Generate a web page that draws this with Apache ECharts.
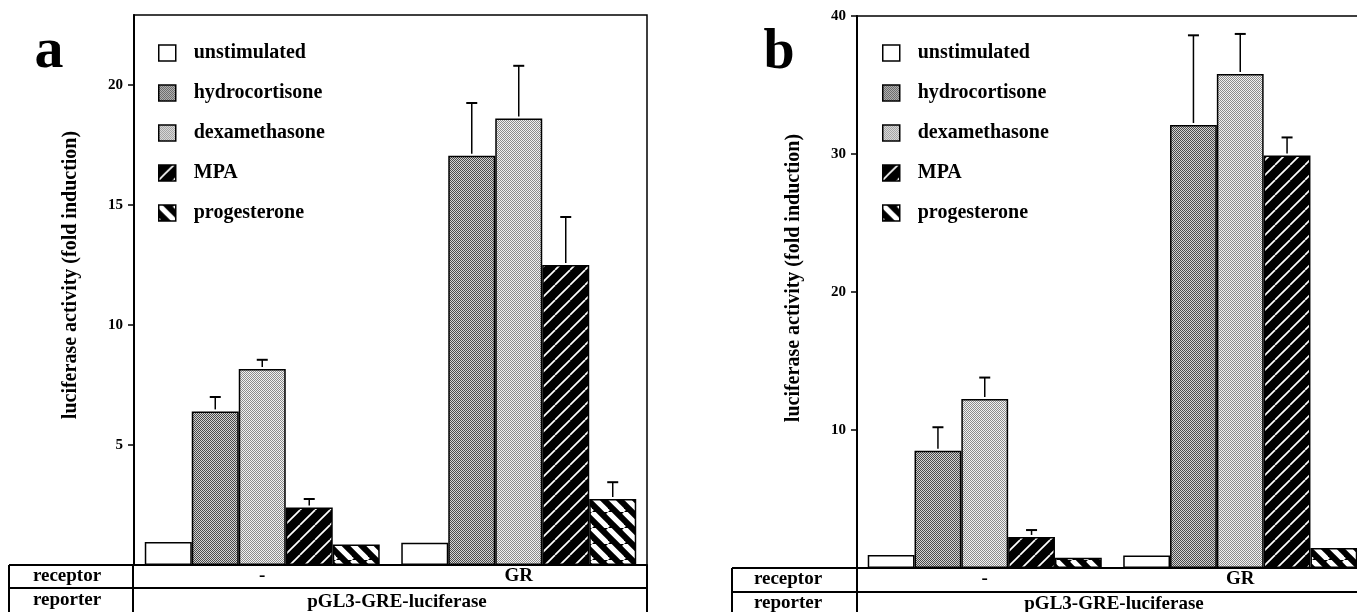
<!DOCTYPE html>
<html>
<head>
<meta charset="utf-8">
<script src="https://cdn.jsdelivr.net/npm/echarts@6/dist/echarts.min.js"></script>
<style>
html,body{margin:0;padding:0;background:#fff;overflow:hidden;}
#c{width:1357px;height:612px;}
</style>
</head>
<body>
<div id="c"></div>
<script>
// ---------- data ----------
const categories = ['-', 'GR'];
const drugs = ['unstimulated', 'hydrocortisone', 'dexamethasone', 'MPA', 'progesterone'];
const yTitle = 'luciferase activity (fold induction)';
const tableRowLabels = ['receptor', 'reporter'];
const reporterName = 'pGL3-GRE-luciferase';
const panelLetters = ['a', 'b'];

// panel a
const aUnstimulated   = [0.96, 0.93];
const aHydrocortisone = [6.4, 17.05];
const aDexamethasone  = [8.17, 18.6];
const aMPA            = [2.4, 12.5];
const aProgesterone   = [0.85, 2.75];
const aErrTopHydrocortisone = [7.0, 19.25];
const aErrTopDexamethasone  = [8.55, 20.8];
const aErrTopMPA            = [2.75, 14.5];
const aErrTopProgesterone   = [null, 3.45];

// panel b
const bUnstimulated   = [0.95, 0.9];
const bHydrocortisone = [8.5, 32.1];
const bDexamethasone  = [12.25, 35.8];
const bMPA            = [2.25, 29.9];
const bProgesterone   = [0.75, 1.45];
const bErrTopHydrocortisone = [10.2, 38.6];
const bErrTopDexamethasone  = [13.8, 38.7];
const bErrTopMPA            = [2.75, 31.2];
const bErrTopProgesterone   = [null, null];

// ---------- patterns ----------
function tile(w, h, draw) {
  const c = document.createElement('canvas');
  c.width = w; c.height = h;
  const g = c.getContext('2d');
  draw(g, w, h);
  return { image: c, repeat: 'repeat' };
}
function dither(dark, light) {
  return tile(4, 4, (g, w, h) => {
    g.fillStyle = light; g.fillRect(0, 0, w, h);
    g.fillStyle = dark;
    for (let y = 0; y < h; y++) for (let x = 0; x < w; x++) if ((x + y) % 2 === 0) g.fillRect(x, y, 1, 1);
  });
}
const patUnstim = '#ffffff';
const patHydro = dither('#4a4a4a', '#d2d2d2');
const patDexa = dither('#8c8c8c', '#f2f2f2');
const patMPA = tile(15, 15, (g, w, h) => {
  g.fillStyle = '#000'; g.fillRect(0, 0, w, h);
  g.strokeStyle = '#fff'; g.lineWidth = 1.7;
  for (const k of [-w, 0, w]) { g.beginPath(); g.moveTo(k, h); g.lineTo(k + w, 0); g.stroke(); }
});
const patProg = tile(16, 16, (g, w, h) => {
  g.fillStyle = '#000'; g.fillRect(0, 0, w, h);
  g.strokeStyle = '#fff'; g.lineWidth = 5.2;
  for (const k of [-w, 0, w]) { g.beginPath(); g.moveTo(k, 0); g.lineTo(k + w, h); g.stroke(); }
});
const patterns = [patUnstim, patHydro, patDexa, patMPA, patProg];

const SERIF = '"Liberation Serif", "DejaVu Serif", serif';
const GAP = 0.084;

function barSeries(vals, gi) {
  return vals.map((v, k) => ({
    name: drugs[k], type: 'bar', xAxisIndex: gi, yAxisIndex: gi,
    data: v, barGap: '0%', barCategoryGap: (GAP * 100) + '%',
    itemStyle: { color: patterns[k], borderColor: '#000', borderWidth: 1.5 },
    emphasis: { disabled: true }, animation: false
  }));
}
function errSeries(vals, tops, gi) {
  const data = [];
  tops.forEach((t, k) => t.forEach((top, i) => { if (top != null) data.push([i, k, vals[k][i], top]); }));
  return {
    type: 'custom', xAxisIndex: gi, yAxisIndex: gi, z: 5, animation: false,
    encode: { x: 0, y: 3 }, data: data,
    renderItem: function (params, api) {
      const cat = api.value(0), k = api.value(1), v = api.value(2), t = api.value(3);
      const p0 = api.coord([cat, v]); const p1 = api.coord([cat, t]);
      const band = api.size([1, 0])[0];
      const bw = band * (1 - GAP) / 5;
      const x = p0[0] + (k - 2) * bw;
      return { type: 'group', children: [
        { type: 'line', shape: { x1: x, y1: p0[1] - 2, x2: x, y2: p1[1] }, style: { stroke: '#000', lineWidth: 1.5 } },
        { type: 'line', shape: { x1: x - 5.5, y1: p1[1], x2: x + 5.5, y2: p1[1] }, style: { stroke: '#000', lineWidth: 2 } }
      ]};
    }
  };
}

const aVals = [aUnstimulated, aHydrocortisone, aDexamethasone, aMPA, aProgesterone];
const aTops = [[null, null], aErrTopHydrocortisone, aErrTopDexamethasone, aErrTopMPA, aErrTopProgesterone];
const bVals = [bUnstimulated, bHydrocortisone, bDexamethasone, bMPA, bProgesterone];
const bTops = [[null, null], bErrTopHydrocortisone, bErrTopDexamethasone, bErrTopMPA, bErrTopProgesterone];

function yAxis(gi, max, step) {
  return {
    type: 'value', gridIndex: gi, min: 0, max: max, interval: step,
    axisLine: { show: true, lineStyle: { color: '#000', width: 2 } },
    axisTick: { show: true, length: 6, lineStyle: { color: '#000', width: 1.5 } },
    axisLabel: { color: '#000', fontFamily: SERIF, fontWeight: 'bold', fontSize: 15, margin: 11,
      showMaxLabel: gi === 1,
      formatter: v => (v === 0 || Math.abs(v % step) > 1e-9 ? '' : String(v)) },
    splitLine: { show: false }
  };
}
function xAxis(gi) {
  return {
    type: 'category', gridIndex: gi, data: categories,
    axisLine: { show: true, lineStyle: { color: '#000', width: 2 } },
    axisTick: { show: false },
    axisLabel: { color: '#000', fontFamily: SERIF, fontWeight: 'bold', fontSize: 19, margin: 2 }
  };
}
function legend(left) {
  return {
    data: drugs, orient: 'vertical', left: left, top: 43, padding: 0, icon: 'rect',
    itemWidth: 17, itemHeight: 16, itemGap: 20, selectedMode: false,
    itemStyle: { borderColor: '#000', borderWidth: 1.5 },
    textStyle: { color: '#000', fontFamily: SERIF, fontWeight: 'bold', fontSize: 20, padding: [0, 0, 0, 13] }
  };
}

const T = (x, y, text, size, rot) => ({ type: 'text', silent: true, x: x, y: y, rotation: rot || 0,
  style: { x: 0, y: 0, text: text, font: 'bold ' + size + 'px ' + SERIF, fill: '#000', align: 'center', verticalAlign: 'middle' } });
const L = (x1, y1, x2, y2, w) => ({ type: 'line', silent: true, shape: { x1, y1, x2, y2 }, style: { stroke: '#000', lineWidth: w || 2 } });

const graphic = [
  T(49, 52, panelLetters[0], 58), T(779, 54, panelLetters[1], 56),
  T(71, 275, yTitle, 20, Math.PI / 2), T(794, 278, yTitle, 20, Math.PI / 2),
  // table a
  L(9, 565, 647, 565), L(9, 588, 647, 588), L(9, 565, 9, 612), L(133, 565, 133, 612), L(647, 565, 647, 612),
  T(67, 576, tableRowLabels[0], 19), T(67, 600, tableRowLabels[1], 19), T(397, 602, reporterName, 19),
  // table b
  L(732, 568, 1357, 568), L(732, 592, 1357, 592), L(732, 568, 732, 612), L(857, 568, 857, 612),
  T(788, 579, tableRowLabels[0], 19), T(788, 603, tableRowLabels[1], 19), T(1114, 604, reporterName, 19)
];

const chart = echarts.init(document.getElementById('c'));
chart.setOption({
  animation: false,
  backgroundColor: '#fff',
  grid: [
    { left: 134, top: 15, width: 513, height: 550, show: true, borderColor: '#000', borderWidth: 1.5, backgroundColor: 'transparent', containLabel: false, outerBoundsMode: 'none' },
    { left: 857, top: 16, width: 511, height: 552, show: true, borderColor: '#000', borderWidth: 1.5, backgroundColor: 'transparent', containLabel: false, outerBoundsMode: 'none' }
  ],
  xAxis: [xAxis(0), xAxis(1)],
  yAxis: [yAxis(0, 550 / 24, 5), yAxis(1, 40, 10)],
  legend: [legend(158), legend(882)],
  series: [].concat(barSeries(aVals, 0), [errSeries(aVals, aTops, 0)], barSeries(bVals, 1), [errSeries(bVals, bTops, 1)]),
  graphic: graphic
});
</script>
</body>
</html>
